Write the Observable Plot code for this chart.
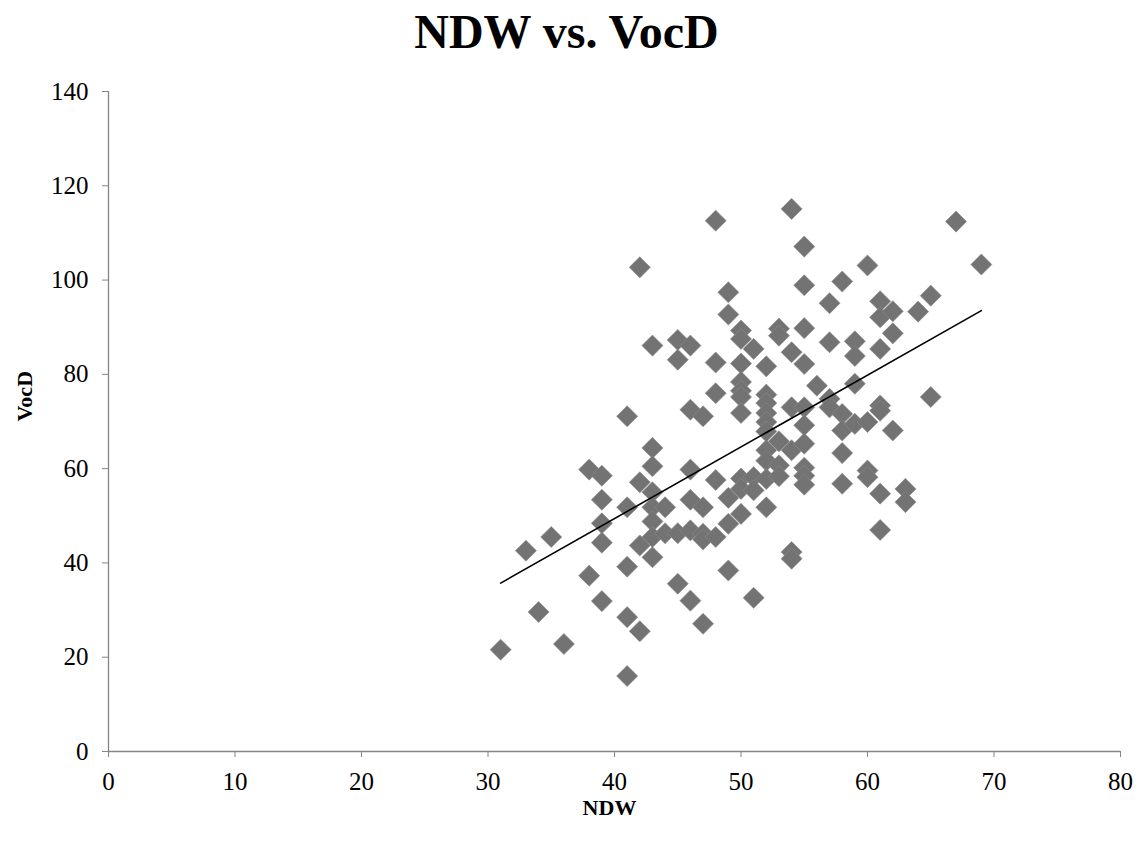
<!DOCTYPE html>
<html>
<head>
<meta charset="utf-8">
<script src="https://cdn.jsdelivr.net/npm/d3@7"></script>
<script src="https://cdn.jsdelivr.net/npm/@observablehq/plot@0.6"></script>
<style>
  html, body { margin: 0; padding: 0; background: #ffffff; }
  #title {
    font-family: "Liberation Serif", "Times New Roman", serif;
    font-weight: bold;
    font-size: 48px;
    line-height: 48px;
    height: 62px;
    padding-top: 8px;
    padding-right: 14px;
    text-align: center;
    color: #000;
  }
  #chart svg { display: block; }
</style>
</head>
<body>
<div id="title">NDW vs. VocD</div>
<div id="chart"></div>
<script>
// NDW (x) values, one entry per point
const ndw = [
  31, 33, 34, 35, 36,
  38, 38,
  39, 39, 39, 39, 39,
  41, 41, 41, 41, 41,
  42, 42, 42, 42,
  43, 43, 43, 43, 43, 43, 43, 43,
  44, 44,
  45, 45, 45, 45,
  46, 46, 46, 46, 46, 46,
  47, 47, 47, 47, 47,
  48, 48, 48, 48, 48,
  49, 49, 49, 49, 49,
  50, 50, 50, 50, 50, 50, 50, 50, 50, 50,
  51, 51, 51, 51,
  52, 52, 52, 52, 52, 52, 52, 52, 52, 52,
  53, 53, 53, 53, 53,
  54, 54, 54, 54, 54, 54,
  55, 55, 55, 55, 55, 55, 55, 55, 55, 55,
  56,
  57, 57, 57, 57,
  58, 58, 58, 58, 58,
  59, 59, 59, 59,
  60, 60, 60, 60,
  61, 61, 61, 61, 61, 61, 61,
  62, 62, 62,
  63, 63,
  64,
  65, 65,
  67,
  69
];
// VocD (y) values, same order as ndw
const vocd = [
  21.6, 42.6, 29.6, 45.5, 22.8,
  59.8, 37.3,
  58.5, 53.4, 48.4, 44.3, 31.9,
  71.1, 51.8, 39.2, 28.5, 16.0,
  102.7, 57.1, 43.7, 25.5,
  86.1, 64.4, 60.5, 55.0, 51.8, 48.8, 45.5, 41.2,
  51.8, 46.3,
  87.3, 83.1, 46.3, 35.6,
  86.1, 72.5, 59.8, 53.4, 46.9, 32.0,
  71.1, 51.8, 46.2, 45.0, 27.1,
  112.6, 82.5, 76.0, 57.6, 45.5,
  97.4, 92.7, 53.8, 48.3, 38.4,
  89.3, 87.5, 82.3, 78.4, 76.5, 75.2, 71.8, 57.9, 55.7, 50.4,
  85.4, 58.2, 55.4, 32.6,
  81.7, 75.7, 73.9, 71.8, 69.9, 67.9, 63.9, 61.7, 57.8, 51.8,
  89.7, 88.2, 65.8, 60.7, 58.4,
  115.1, 84.7, 73.0, 63.9, 42.3, 40.9,
  107.1, 98.9, 89.8, 82.2, 73.0, 69.2, 65.3, 60.2, 58.5, 56.6,
  77.6,
  95.1, 86.8, 74.8, 73.0,
  99.7, 71.6, 68.1, 63.3, 56.8,
  87.0, 83.9, 78.0, 69.5,
  103.1, 69.9, 59.6, 58.2,
  95.5, 92.1, 85.4, 73.4, 72.3, 54.7, 47.0,
  93.4, 88.7, 68.1,
  55.7, 52.9,
  93.3,
  96.7, 75.2,
  112.4,
  103.3
];
const xTicks = [0, 10, 20, 30, 40, 50, 60, 70, 80];
const yTicks = [0, 20, 40, 60, 80, 100, 120, 140];
const xLabel = "NDW";
const yLabel = "VocD";

const points = ndw.map((x, i) => ({ x, y: vocd[i] }));

const axisGray = "#868686";

const chart = Plot.plot({
  width: 1147,
  height: 771,
  marginTop: 21,
  marginLeft: 108,
  marginRight: 27,
  marginBottom: 90,
  style: {
    fontFamily: "'Liberation Serif', 'Times New Roman', serif",
    background: "#ffffff",
    color: "#000000"
  },
  x: { type: "linear", domain: [0, 80], ticks: xTicks },
  y: { type: "linear", domain: [0, 140], ticks: yTicks },
  marks: [
    Plot.ruleY([0], { stroke: axisGray, strokeWidth: 1.3 }),
    Plot.ruleX([0], { stroke: axisGray, strokeWidth: 1.3 }),
    Plot.axisX({ ticks: xTicks, tickSize: 6, tickPadding: 15, stroke: axisGray, fill: "#000", fontSize: 25, label: null }),
    Plot.axisY({ ticks: yTicks, tickSize: 6, tickPadding: 14, stroke: axisGray, fill: "#000", fontSize: 25, label: null }),
    Plot.dot(points, { x: "x", y: "y", symbol: "diamond2", r: 9.5, fill: "#737373", stroke: "#8c8c8c", strokeWidth: 0.6 }),
    Plot.linearRegressionY(points, { x: "x", y: "y", stroke: "#000000", strokeWidth: 1.6, ci: 0 }),
    Plot.text([xLabel], { frameAnchor: "bottom", dx: -5, dy: 63, fontSize: 22, fontWeight: "bold", fill: "#000" }),
    Plot.text([yLabel], { frameAnchor: "left", dx: -84, rotate: -90, fontSize: 22, fontWeight: "bold", fill: "#000" })
  ]
});

document.getElementById("chart").appendChild(chart);
</script>
</body>
</html>
